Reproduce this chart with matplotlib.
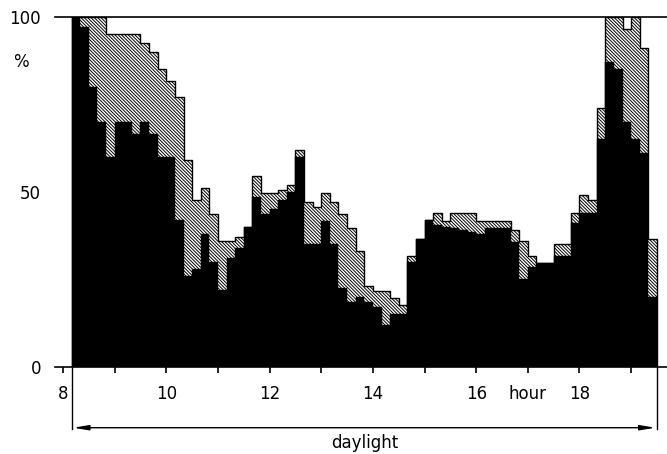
import matplotlib.pyplot as plt
import numpy as np

plt.rcParams['font.family'] = ['DejaVu Sans']
plt.rcParams['hatch.linewidth'] = 0.7

# 10-minute bins, 8:10 .. 19:30
start_hour = 8 + 1 / 6
bin_width = 1 / 6

# total occupancy (top of hatched part), % per bin
total = [100, 100, 100, 100, 95, 95, 95, 95, 92.5, 90,
         85, 81.5, 77, 59, 47.5, 51, 43.5, 36, 36, 37,
         40, 54.5, 49.5, 49.5, 50.5, 52, 62, 47, 45.5, 49.5,
         47, 43.5, 39.5, 33, 23, 21.5, 21.5, 19.5, 17.5, 31.5,
         36.5, 42, 44, 41.5, 44, 44, 44, 41.5, 41.5, 41.5,
         41.5, 39, 36, 31.5, 29.5, 29.5, 35, 35, 44, 49,
         47.5, 74, 100, 100, 96.5, 100, 91, 36.5]

# black part, % per bin
black = [100, 97, 80, 70, 60, 70, 70, 66.5, 70, 66.5,
         60, 60, 42, 26, 28, 38, 30, 22, 31, 34,
         40, 48.5, 43.5, 45, 47.5, 50, 60, 35, 35, 41.5,
         35, 22.5, 18.5, 20, 18.5, 17, 12, 15, 15, 30,
         36.5, 42, 40.5, 40, 39.5, 39, 38.5, 38, 39.5, 39.5,
         39.5, 35.5, 25, 28.5, 29.5, 29.5, 31.5, 31.5, 41, 44,
         44, 65, 87, 85, 70, 65, 61, 20]

hour_ticks = [8, 9, 10, 11, 12, 13, 14, 15, 16, 17, 18, 19]
hour_labels = ['8', '', '10', '', '12', '', '14', '', '16', 'hour', '18', '']

n = len(total)
lefts = start_hour + bin_width * np.arange(n)
edges = start_hour + bin_width * np.arange(n + 1)

fig = plt.figure(figsize=(6.67, 4.54), dpi=100)
ax = fig.add_axes([55 / 667, 1 - 366.5 / 454, 612 / 667, 349.8 / 454])

ax.bar(lefts, total, width=bin_width, align='edge', facecolor='white',
       edgecolor='black', linewidth=0, hatch='\\\\\\\\\\\\\\\\\\\\')
ax.bar(lefts, black, width=bin_width, align='edge', color='black',
       edgecolor='black', linewidth=0.3)
ax.stairs(total, edges, color='black', linewidth=1.0)

ax.set_xlim(8 - 8 / 51.65, 8 + 612 / 51.65 - 8 / 51.65)
ax.set_ylim(0, 100)

for s in ['left', 'right']:
    ax.spines[s].set_visible(False)
ax.spines['top'].set_linewidth(1.2)
ax.spines['bottom'].set_linewidth(1.2)

ax.set_xticks(hour_ticks)
ax.set_xticklabels(hour_labels, fontsize=12)
ax.tick_params(axis='x', direction='out', length=4, width=1.2, pad=9)
ax.set_yticks([0, 50, 100])
ax.set_yticklabels(['0', '50', '100'], fontsize=12)
ax.tick_params(axis='y', length=0, pad=10)
ax.text(-0.055, 0.87, '%', transform=ax.transAxes, fontsize=12,
        ha='center', va='center')

# daylight bracket
x0, x1 = edges[0], edges[-1]
ax.plot([x0, x0], [0, -18], color='black', lw=1.0, clip_on=False)
ax.plot([x1, x1], [0, -18], color='black', lw=1.0, clip_on=False)
ax.annotate('', xy=(x0 + 0.03, -17.5), xytext=(x1 - 0.03, -17.5),
            arrowprops=dict(arrowstyle='<|-|>,head_length=0.9,head_width=0.15',
                            color='black', lw=1.0, shrinkA=0, shrinkB=0),
            annotation_clip=False)
ax.text((x0 + x1) / 2, -22, 'daylight', fontsize=12, ha='center', va='center')

plt.savefig('out.png', dpi=100)
